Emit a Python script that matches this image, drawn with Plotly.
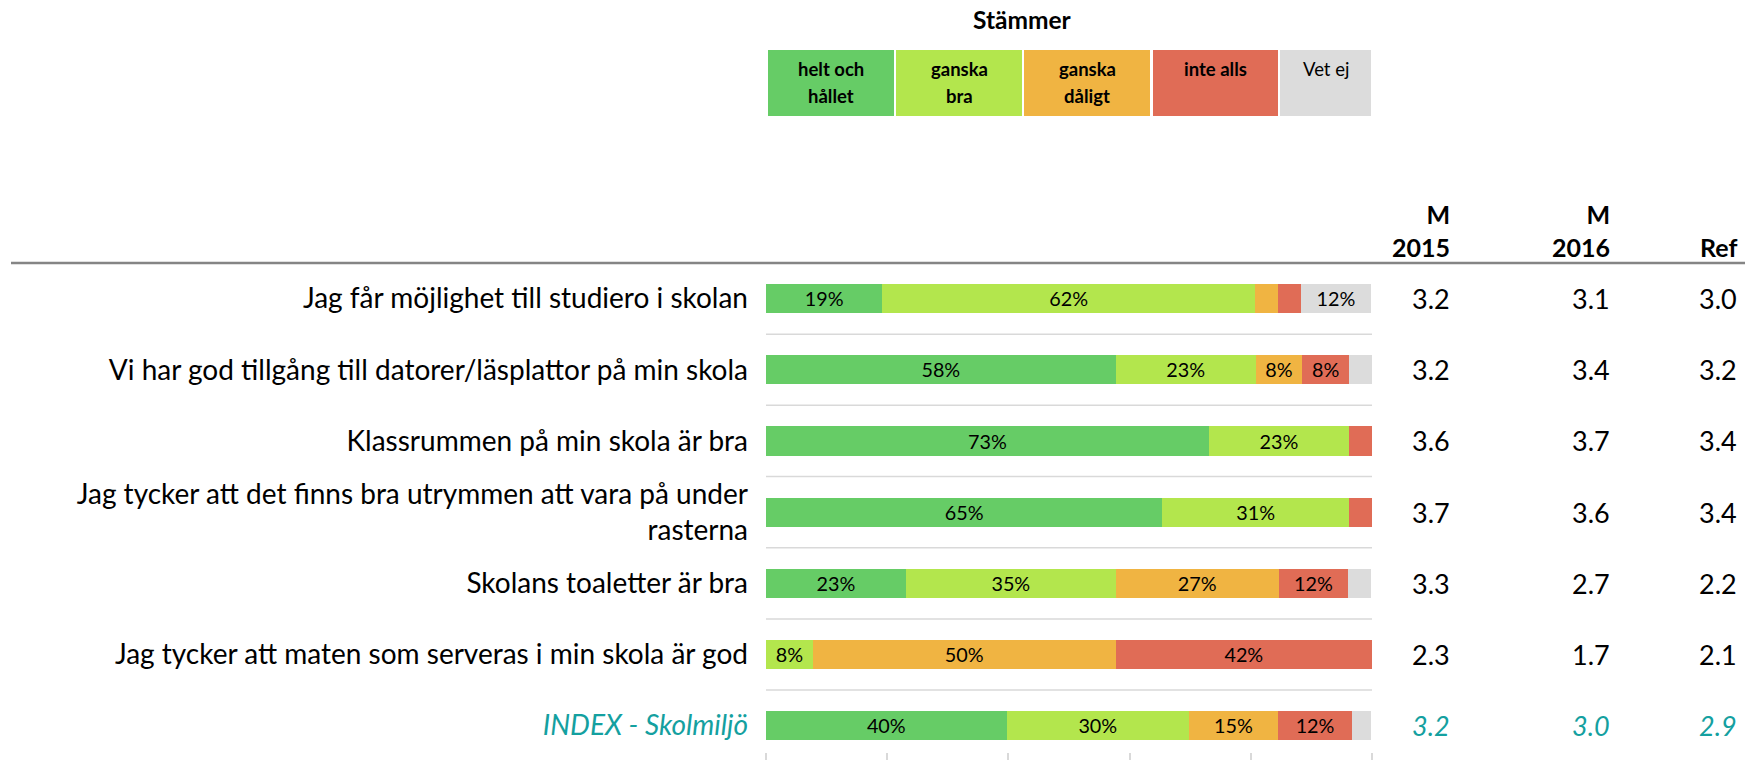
import plotly.graph_objects as go

# ---------------- data ----------------
statements = [
    "Jag får möjlighet till studiero i skolan",
    "Vi har god tillgång till datorer/läsplattor på min skola",
    "Klassrummen på min skola är bra",
    "Jag tycker att det finns bra utrymmen att vara på under<br>rasterna",
    "Skolans toaletter är bra",
    "Jag tycker att maten som serveras i min skola är god",
    "INDEX - Skolmiljö",
]
answer_labels = ["helt och<br>hållet", "ganska<br>bra", "ganska<br>dåligt", "inte alls", "Vet ej"]
answer_names = ["helt och hållet", "ganska bra", "ganska dåligt", "inte alls", "Vet ej"]

helt_och_hallet = [19.2, 57.7, 73.1, 65.4, 23.1, 0.0, 39.7]
ganska_bra      = [61.5, 23.1, 23.1, 30.8, 34.6, 7.7, 30.1]
ganska_daligt   = [3.8, 7.7, 0.0, 0.0, 26.9, 50.0, 14.7]
inte_alls       = [3.8, 7.7, 3.8, 3.8, 11.5, 42.3, 12.2]
vet_ej          = [11.5, 3.8, 0.0, 0.0, 3.8, 0.0, 3.2]

mean_headers = ["M<br>2015", "M<br>2016", "Ref"]
m_2015 = [3.2, 3.2, 3.6, 3.7, 3.3, 2.3, 3.2]
m_2016 = [3.1, 3.4, 3.7, 3.6, 2.7, 1.7, 3.0]
m_ref  = [3.0, 3.2, 3.4, 3.4, 2.2, 2.1, 2.9]

legend_title = "Stämmer"

# ---------------- style ----------------
W, H = 1745, 760
FONT = "Lato"
colors = ["#66CC66", "#B3E64D", "#F0B442", "#E06C56", "#DCDCDC"]
TEAL = "#14A0A0"

def px_x(p):
    return p / W

def px_y(p):
    return 1 - p / H

series = [helt_och_hallet, ganska_bra, ganska_daligt, inte_alls, vet_ej]

# tick text (INDEX row in teal italic)
ticktext = statements[:-1] + [f"<i><span style='color:{TEAL}'>{statements[-1]}</span></i>"]

fig = go.Figure()
for name, vals, col in zip(answer_names, series, colors):
    fig.add_trace(go.Bar(
        y=statements, x=vals, name=name, orientation="h",
        marker=dict(color=col, line=dict(width=0)),
        text=[f"{v:.0f}%" if v >= 5 else "" for v in vals],
        textposition="inside", insidetextanchor="middle", textangle=0,
        textfont=dict(family=FONT, size=20.5, color="black"),
        showlegend=False,
    ))

fig.update_layout(
    width=W, height=H,
    margin=dict(l=0, r=0, t=0, b=0),
    paper_bgcolor="white", plot_bgcolor="white",
    barmode="stack", bargap=0.59,
    font=dict(family=FONT, color="black"),
    xaxis=dict(
        domain=[px_x(766), px_x(1372)], range=[0, 100],
        tickvals=[0, 20, 40, 60, 80, 100], showticklabels=False,
        ticks="outside", ticklen=8, tickwidth=1.5, tickcolor="#D9D9D9",
        showgrid=False, zeroline=False, showline=False,
    ),
    yaxis=dict(
        domain=[px_y(752), px_y(263)],
        categoryorder="array", categoryarray=statements,
        range=[6.37, -0.5],
        tickvals=statements, ticktext=ticktext,
        tickfont=dict(family=FONT, size=28, color="black"),
        ticks="", ticklabelstandoff=17,
        showgrid=False, zeroline=False, showline=False,
    ),
)

shapes = []
# gridlines between rows
for i in range(len(statements) - 1):
    shapes.append(dict(type="line", xref="x", yref="y", x0=0, x1=100,
                       y0=i + 0.5, y1=i + 0.5,
                       line=dict(color="#D9D9D9", width=1.5)))
# header line
shapes.append(dict(type="line", xref="paper", yref="paper",
                   x0=px_x(11), x1=1, y0=px_y(263), y1=px_y(263),
                   line=dict(color="#858585", width=2.5)))
# legend boxes
box_edges = [(768, 894), (896, 1022), (1024, 1150), (1153, 1278), (1280, 1371)]
line_centers = [69, 96]
annotations = []
for (x0, x1), col, lab in zip(box_edges, colors, answer_labels):
    shapes.append(dict(type="rect", xref="paper", yref="paper",
                       x0=px_x(x0), x1=px_x(x1), y0=px_y(116), y1=px_y(50),
                       fillcolor=col, line=dict(width=0), layer="below"))
    for k, part in enumerate(lab.split("<br>")):
        txt = part if lab == "Vet ej" else f"<b>{part}</b>"
        annotations.append(dict(xref="paper", yref="paper", x=px_x((x0 + x1) / 2),
                                y=px_y(line_centers[k]), xanchor="center",
                                yanchor="middle", text=txt, showarrow=False,
                                font=dict(family=FONT, size=18.5, color="black")))
annotations.append(dict(xref="paper", yref="paper", x=px_x(1022), y=px_y(3),
                        xanchor="center", yanchor="top", text=f"<b>{legend_title}</b>",
                        showarrow=False, font=dict(family=FONT, size=24.5, color="black")))

# mean columns
col_right = [1452, 1612, 1739]
for hdr, xr, vals in zip(mean_headers, col_right, [m_2015, m_2016, m_ref]):
    annotations.append(dict(xref="paper", yref="paper", x=px_x(xr), y=px_y(264),
                            xanchor="right", yanchor="bottom", text=f"<b>{hdr}</b>",
                            showarrow=False, align="right",
                            font=dict(family=FONT, size=25, color="black")))
    for j, (cat, v) in enumerate(zip(statements, vals)):
        is_idx = j == len(statements) - 1
        t = f"<i>{v:.1f}</i>" if is_idx else f"{v:.1f}"
        annotations.append(dict(xref="paper", yref="y", x=px_x(xr), y=cat,
                                xanchor="right", yanchor="middle", text=t,
                                showarrow=False,
                                font=dict(family=FONT, size=27,
                                          color=TEAL if is_idx else "black")))

fig.update_layout(shapes=shapes, annotations=annotations)
fig.write_html(
    "out.html",
    config={"displayModeBar": False},
    post_script="document.body.style.margin='0';document.body.style.overflow='hidden';",
)
